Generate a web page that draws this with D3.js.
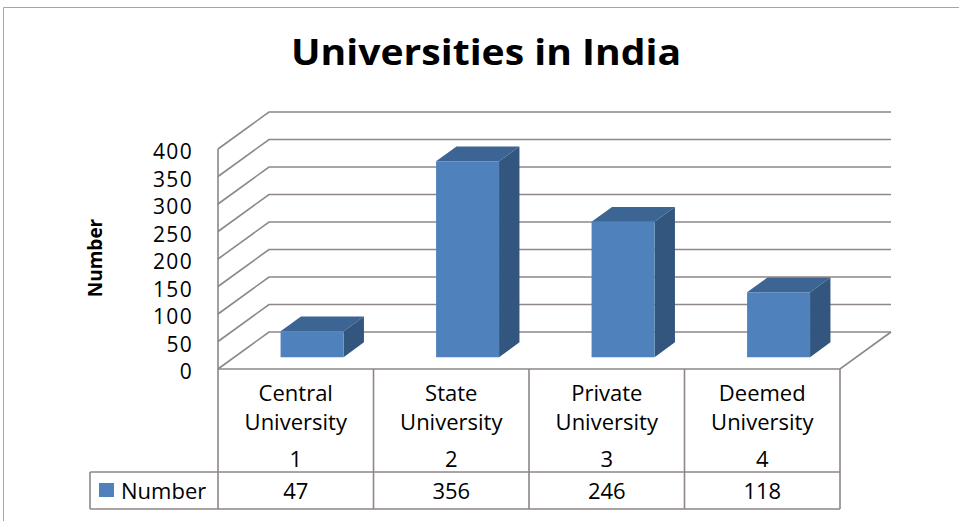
<!DOCTYPE html>
<html>
<head>
<meta charset="utf-8">
<script src="https://cdn.jsdelivr.net/npm/d3@7"></script>
<style>
  body { margin: 0; background: #fff; }
  text { font-family: "Open Sans", sans-serif; fill: #000; }
</style>
</head>
<body>
<div id="chart"></div>
<script>
// data
var categories = ["Central University", "State University", "Private University", "Deemed University"];
var catIndex = ["1", "2", "3", "4"];
var values = [47, 356, 246, 118];
var yTicks = [0, 50, 100, 150, 200, 250, 300, 350, 400];
var seriesName = "Number";
var chartTitle = "Universities in India";

var W = 959, H = 521;
var left = 218, right = 840, floorY = 369, topY = 149;
var DX = 51, DY = -37;          // depth offset of back wall
var zFront = 0.32, zBack = 0.72; // bar depth position
var lineCol = "#8e8689";

var svg = d3.select("#chart").append("svg")
    .attr("width", W)
    .attr("height", H);

// outer border
svg.append("path")
    .attr("d", "M3.5," + H + " L3.5,7.5 L" + W + ",7.5")
    .attr("fill", "none")
    .attr("stroke", "#a6a6a6")
    .attr("stroke-width", 1);

svg.append("text")
    .attr("x", 486)
    .attr("y", 51)
    .attr("text-anchor", "middle")
    .attr("dominant-baseline", "central")
    .attr("font-weight", "bold")
    .attr("font-size", "35px")
    .attr("textLength", 390)
    .attr("lengthAdjust", "spacingAndGlyphs")
    .text(chartTitle);

var x = d3.scaleBand()
    .domain(categories)
    .range([left, right]);

var y = d3.scaleLinear()
    .domain([0, 400])
    .range([floorY, topY]);

function proj(px, v, z) {
    return [px + z * DX, y(v) + z * DY];
}

// walls and gridlines
var grid = svg.append("g")
    .attr("fill", "none")
    .attr("stroke", lineCol)
    .attr("stroke-width", 1.6);

yTicks.forEach(function(t) {
    var a = proj(left, t, 0), b = proj(left, t, 1), c = proj(right, t, 1);
    grid.append("path").attr("d", "M" + a + " L" + b + " L" + c);
});
grid.append("line")
    .attr("x1", left).attr("y1", y(0))
    .attr("x2", left).attr("y2", y(400));
grid.append("path")
    .attr("d", "M" + proj(left, 0, 0) + " L" + proj(right, 0, 0) + " L" + proj(right, 0, 1));

// y tick labels
svg.append("g").selectAll("text")
    .data(yTicks)
    .enter().append("text")
    .attr("x", 193)
    .attr("y", function(d) { return y(d) + 2; })
    .attr("text-anchor", "end")
    .attr("dominant-baseline", "central")
    .attr("font-size", "21px")
    .attr("letter-spacing", "1.3px")
    .text(function(d) { return d; });

svg.append("text")
    .attr("transform", "translate(95,258) rotate(-90)")
    .attr("text-anchor", "middle")
    .attr("dominant-baseline", "central")
    .attr("font-weight", "bold")
    .attr("font-size", "19px")
    .text(seriesName);

// bars
var barW = x.bandwidth() * 0.405;
var bars = svg.append("g").selectAll("g")
    .data(values)
    .enter().append("g");

function poly(pts) { return "M" + pts.join(" L") + " Z"; }

bars.append("path")
    .attr("fill", "#3c6594")
    .attr("d", function(d, i) {
        var x0 = x(categories[i]) + (x.bandwidth() - barW) / 2, x1 = x0 + barW;
        return poly([proj(x0, d, zFront), proj(x1, d, zFront), proj(x1, d, zBack), proj(x0, d, zBack)]);
    });
bars.append("path")
    .attr("fill", "#33567f")
    .attr("d", function(d, i) {
        var x1 = x(categories[i]) + (x.bandwidth() + barW) / 2;
        return poly([proj(x1, 0, zFront), proj(x1, d, zFront), proj(x1, d, zBack), proj(x1, 0, zBack)]);
    });
bars.append("path")
    .attr("fill", "#4f81bd")
    .attr("d", function(d, i) {
        var x0 = x(categories[i]) + (x.bandwidth() - barW) / 2, x1 = x0 + barW;
        return poly([proj(x0, 0, zFront), proj(x1, 0, zFront), proj(x1, d, zFront), proj(x0, d, zFront)]);
    });

// data table
var rowTop = floorY, rowMid = 472, rowBot = 509, legLeft = 90;
var table = svg.append("g")
    .attr("fill", "none")
    .attr("stroke", lineCol)
    .attr("stroke-width", 1.6);

table.append("path")
    .attr("d", "M" + legLeft + "," + rowMid + " L" + right + "," + rowMid +
               " M" + legLeft + "," + rowBot + " L" + right + "," + rowBot +
               " M" + legLeft + "," + rowMid + " L" + legLeft + "," + rowBot);
categories.concat([null]).forEach(function(c) {
    var px = c === null ? right : x(c);
    table.append("line")
        .attr("x1", px).attr("y1", rowTop)
        .attr("x2", px).attr("y2", rowBot);
});

var cells = svg.append("g").selectAll("g")
    .data(categories)
    .enter().append("g")
    .attr("transform", function(d) { return "translate(" + (x(d) + x.bandwidth() / 2) + ",0)"; })
    .attr("text-anchor", "middle")
    .attr("font-size", "22px");

cells.append("text")
    .attr("y", 392)
    .attr("dominant-baseline", "central")
    .text(function(d) { return d.split(" ")[0]; });
cells.append("text")
    .attr("y", 421)
    .attr("dominant-baseline", "central")
    .text(function(d) { return d.split(" ")[1]; });
cells.append("text")
    .attr("y", 458)
    .attr("dominant-baseline", "central")
    .text(function(d, i) { return catIndex[i]; });
cells.append("text")
    .attr("y", 490)
    .attr("dominant-baseline", "central")
    .text(function(d, i) { return values[i]; });

// legend key
svg.append("rect")
    .attr("x", 99).attr("y", 483)
    .attr("width", 15).attr("height", 14)
    .attr("fill", "#4f81bd");
svg.append("text")
    .attr("x", 121)
    .attr("y", 490)
    .attr("dominant-baseline", "central")
    .attr("font-size", "22px")
    .text(seriesName);
</script>
</body>
</html>
